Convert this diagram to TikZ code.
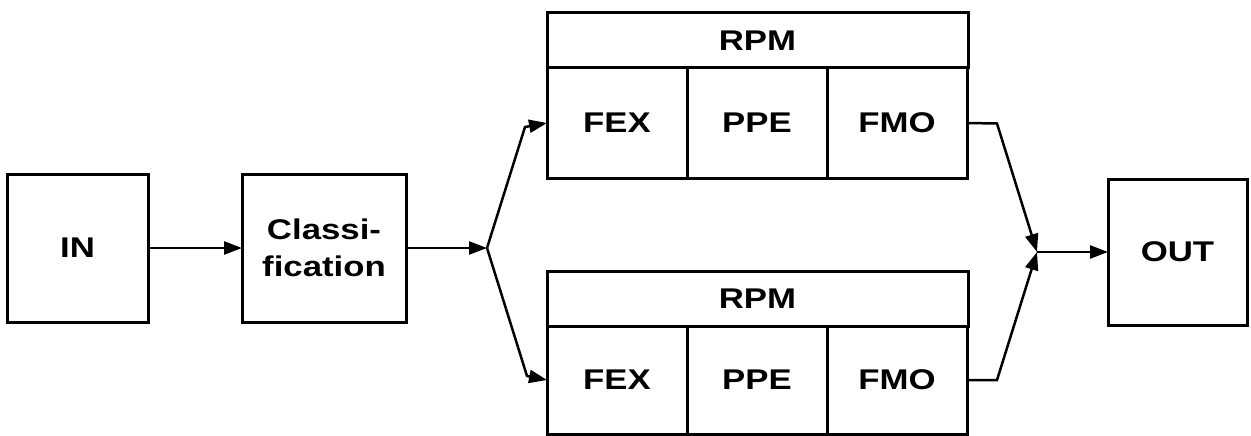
\documentclass[tikz,border=0pt]{standalone}
\usepackage{fontspec}
\setmainfont{Liberation Sans}
\newfontfamily\widesans[FakeStretch=1.22]{Liberation Sans}
\usepackage{tikz}
\usetikzlibrary{positioning, arrows.meta}

\begin{document}
\begin{tikzpicture}[x=1pt, y=-1pt, node distance=0pt, >={Triangle[length=18pt, width=13pt]},
    box/.style={draw, line width=3pt, inner sep=0pt, outer sep=0pt, align=center,
        font=\widesans\fontsize{28.5}{37}\selectfont\bfseries},
    cell/.style={box, minimum width=140pt, minimum height=110pt},
    head/.style={box, minimum width=421pt, minimum height=55pt},
    wire/.style={line width=2.5pt}]
                \useasboundingbox (0,0) rectangle (1251,436);

                \node[box, minimum width=141pt, minimum height=148pt] (in) at (77.5,248) {IN};
                \node[box, minimum width=164pt, minimum height=148pt] (cls) at (324,248) {Classi-\\fication};

                % upper RPM
                \node[head] (rpmA) at (757.5,40.5) {RPM};
                \node[cell, anchor=north west] (fexA) at (rpmA.south west) {FEX};
                \node[cell] (ppeA) [right=of fexA] {PPE};
                \node[cell] (fmoA) [right=of ppeA] {FMO};

                % lower RPM
                \node[head] (rpmB) at (757.5,298.5) {RPM};
                \node[cell, minimum height=108pt, anchor=north west] (fexB) at (rpmB.south west) {FEX};
                \node[cell, minimum height=108pt] (ppeB) [right=of fexB] {PPE};
                \node[cell, minimum height=108pt] (fmoB) [right=of ppeB] {FMO};

                \node[box, minimum width=139pt, minimum height=146pt] (out) at (1177.5,252) {OUT};

                \coordinate (split) at (487,248);
                \coordinate (kinkA) at (525,127);
                \coordinate (kinkB) at (527,376);
                \coordinate (turnA) at (997,123.5);
                \coordinate (turnB) at (997,380);
                \coordinate (merge) at (1037,252);

                \draw[wire, ->] (in) -- (cls);
                \draw[wire, ->] (cls.east) -- (split);
                \draw[wire, ->, line join=round] (split) -- (kinkA) -- (fexA.west);
                \draw[wire, ->, line join=round] (split) -- (kinkB) -- (fexB.west);
                \draw[wire, ->] (fmoA.east) -- (turnA) -- (merge);
                \draw[wire, ->] (fmoB.east) -- (turnB) -- (merge);
                \draw[wire, ->] (merge) -- (out);
            \end{tikzpicture}
\end{document}
